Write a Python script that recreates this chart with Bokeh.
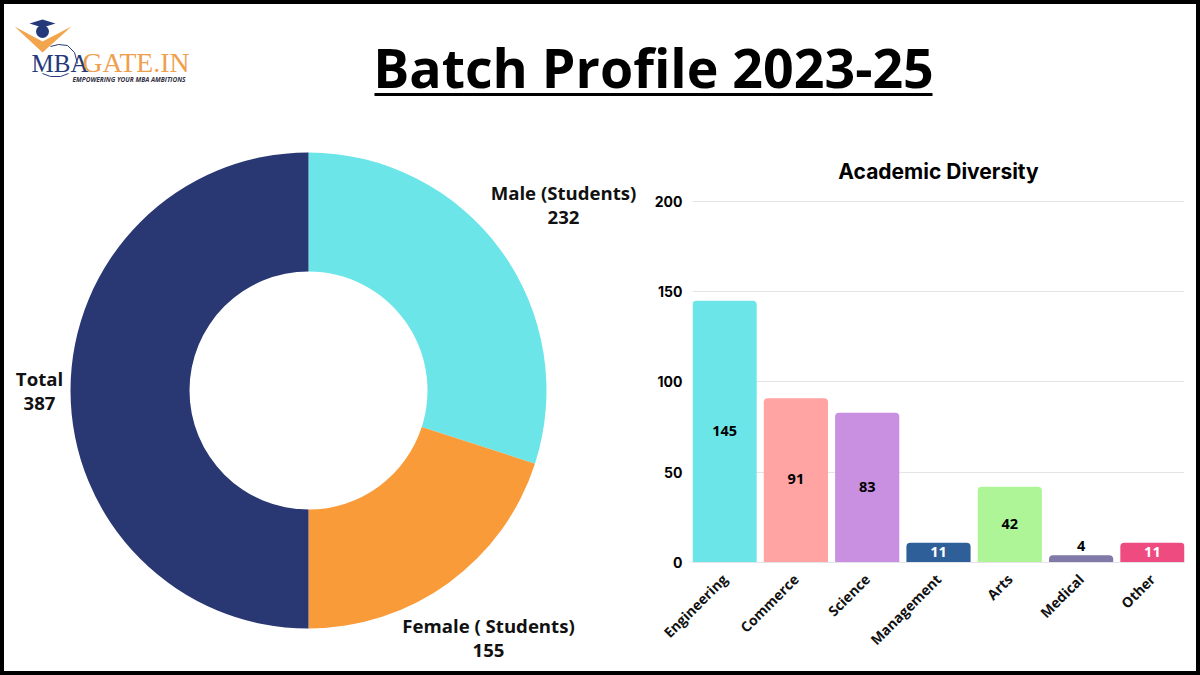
from math import pi
from bokeh.plotting import figure
from bokeh.layouts import column, row
from bokeh.models import ColumnDataSource, FactorRange, Range1d
from bokeh.core.properties import value
from bokeh.embed import file_html
from bokeh.resources import INLINE

# ---- data ----
donut_labels = ["Male (Students)", "Female ( Students)", "Total"]
donut_values = [232, 155, 387]
donut_colors = ["#6BE5E8", "#F99B38", "#293772"]

categories = ["Engineering", "Commerce", "Science", "Management", "Arts", "Medical", "Other"]
bar_values = [145, 91, 83, 11, 42, 4, 11]
bar_colors = ["#6BE5E8", "#FFA3A3", "#C98FE0", "#2F5F98", "#AEF598", "#7F7AA8", "#EE4C80"]
label_colors = ["#000000", "#000000", "#000000", "#FFFFFF", "#000000", "#000000", "#FFFFFF"]
y_ticks = [0, 50, 100, 150, 200]

FONT = value("Open Sans")
SERIF = value("Liberation Serif")


def clean(p):
    p.outline_line_color = None
    p.background_fill_color = "white"
    p.border_fill_color = "white"
    p.frame_align = False


# ---- header: logo and main title (page pixel coordinates) ----
head = figure(width=1192, height=129, output_backend="svg", toolbar_location=None,
              x_range=Range1d(4, 1196), y_range=Range1d(133, 4),
              min_border=0, x_axis_location=None, y_axis_location=None)
head.grid.visible = False
clean(head)
head.text([653], [67], text=["Batch Profile 2023-25"], text_font=FONT, text_font_style="bold",
          text_font_size="53.7px", text_align="center", text_baseline="middle", text_color="#000000")
head.segment([374], [94], [932], [94], line_color="#000000", line_width=3)
# logo: orange chevron, mortar board, swoosh, wordmark
head.patch([14, 42, 71, 42], [26, 41, 26, 52], fill_color="#F2A54C", line_color=None)
head.circle([42], [31], radius=6.5, fill_color="#24397A", line_color=None)
head.patch([29, 42, 55, 42], [23, 19, 23, 27], fill_color="#24397A", line_color=None)
head.line([50, 58, 67, 74, 77], [46, 44, 45, 52, 63], line_color="#24397A", line_width=1)
head.line([42, 50, 60, 68], [73, 76, 76, 73], line_color="#24397A", line_width=1)
head.text([31], [63], text=["MBA"], text_font=SERIF, text_font_size="25px",
          text_color="#24397A", text_baseline="middle")
head.text([82], [62], text=["GATE.IN"], text_font=SERIF, text_font_size="27.7px",
          text_color="#EFA04F", text_baseline="middle")
head.text([72], [79], text=["EMPOWERING YOUR MBA AMBITIONS"], text_font=FONT, text_font_style="bold italic",
          text_font_size="6.5px", text_color="#333344", text_baseline="middle")

# ---- donut (page pixel coordinates for placement) ----
donut = figure(width=646, height=538, output_backend="svg", toolbar_location=None,
               x_range=Range1d(4, 650), y_range=Range1d(671, 133),
               min_border=0, x_axis_location=None, y_axis_location=None)
donut.grid.visible = False
clean(donut)
total = sum(donut_values)
cum = 0
starts, ends = [], []
for v in donut_values:
    starts.append(pi / 2 - 2 * pi * cum / total)
    cum += v
    ends.append(pi / 2 - 2 * pi * cum / total)
donut.annular_wedge(x=308, y=390, inner_radius=119, outer_radius=238,
                    start_angle=starts, end_angle=ends, direction="clock",
                    fill_color=donut_colors, line_color=None)
lab_x = [563, 488, 39]
lab_y = [204, 637, 390]
donut.text(lab_x, lab_y, text=[f"{n}\n{v}" for n, v in zip(donut_labels, donut_values)],
           text_font=FONT, text_font_style="bold", text_font_size="18.6px", text_color="#111111",
           text_align="center", text_baseline="middle", text_line_height=0.95)

# ---- bars ----
bars = figure(width=546, height=538, output_backend="svg", toolbar_location=None,
              x_range=FactorRange(factors=categories, factor_padding=0,
                                  range_padding=-0.05, range_padding_units="absolute"),
              y_range=Range1d(0, 201.1),
              min_border_left=42, min_border_right=12, min_border_top=66, min_border_bottom=109,
              title="Academic Diversity")
clean(bars)
bars.title.align = "center"
bars.title.text_font = "Inter"
bars.title.text_font_size = "21px"
bars.title.text_font_style = "bold"
bars.title.text_color = "#000000"
bars.title.standoff = 31
src = ColumnDataSource(dict(
    cat=categories, val=bar_values, color=bar_colors, lc=label_colors,
    ly=[v / 2 if v > 5 else v for v in bar_values],
    base=["middle" if v > 5 else "bottom" for v in bar_values],
    off=[-1 if v > 5 else -4 for v in bar_values],
    txt=[str(v) for v in bar_values],
))
bars.vbar(x="cat", top="val", width=0.9, fill_color="color", line_color=None,
          border_radius=(4, 4, 0, 0), source=src)
bars.text(x="cat", y="ly", text="txt", text_color="lc", text_baseline="base", y_offset="off",
          text_align="center", text_font=FONT, text_font_style="bold", text_font_size="14.5px", source=src)
bars.xgrid.visible = False
bars.ygrid.grid_line_color = "#E4E4E8"
bars.ygrid.ticker = y_ticks
bars.yaxis.ticker = y_ticks
bars.yaxis.axis_line_color = None
bars.yaxis.major_tick_line_color = None
bars.yaxis.minor_tick_line_color = None
bars.yaxis.major_label_text_font = "Inter"
bars.yaxis.major_label_text_font_style = "bold"
bars.yaxis.major_label_text_font_size = "14px"
bars.yaxis.major_label_text_color = "#000000"
bars.yaxis.major_label_standoff = 4
bars.xaxis.axis_line_color = "#E4E4E8"
bars.xaxis.major_tick_line_color = None
bars.xaxis.minor_tick_line_color = None
bars.xaxis.major_label_orientation = pi / 4
bars.xaxis.major_label_text_font = "Open Sans"
bars.xaxis.major_label_text_font_style = "bold"
bars.xaxis.major_label_text_font_size = "14px"
bars.xaxis.major_label_text_color = "#111111"
bars.xaxis.major_label_standoff = 8

root = column(head, row(donut, bars, spacing=0), spacing=0,
              styles={"border": "4px solid #000"})

open("out.html", "w").write(file_html(root, INLINE))
